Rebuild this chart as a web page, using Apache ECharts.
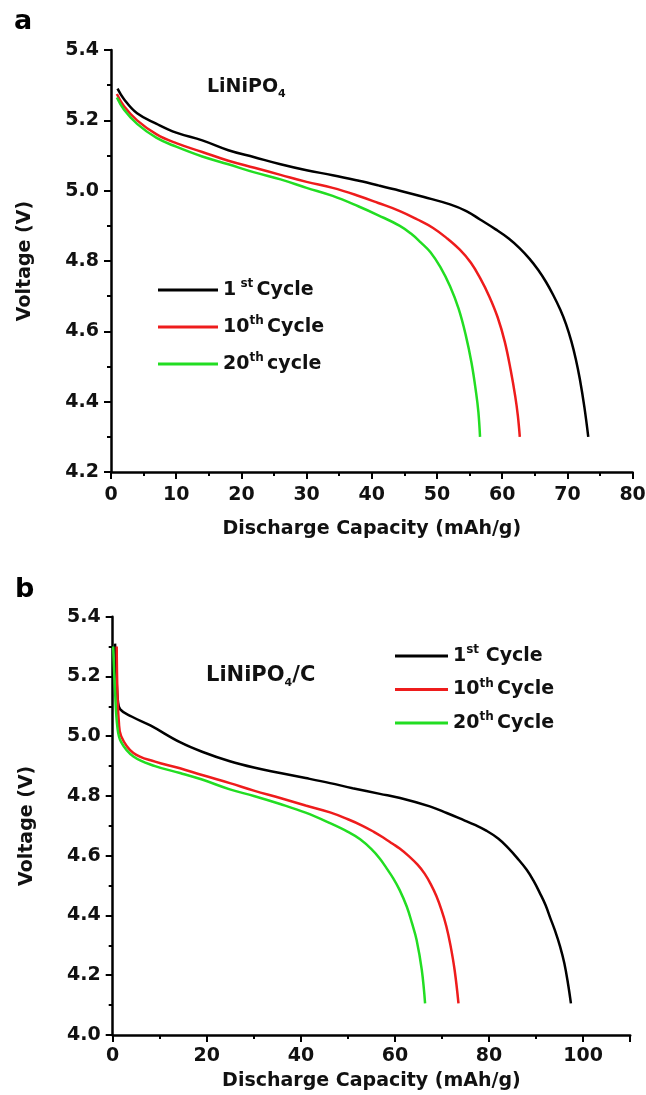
<!DOCTYPE html>
<html>
<head>
    <meta charset="utf-8">
    <script src="https://cdn.jsdelivr.net/npm/echarts@6/dist/echarts.min.js"></script>
    <style>
        html, body { margin: 0; padding: 0; background: #fff; }
        #main { width: 646px; height: 1095px; }
    </style>
</head>
<body>
    <div id="main"></div>
    <script>
        // capacity (mAh/g), voltage (V)
        // panel a: LiNiPO4
        var a1st = [[1,5.29],[2,5.26],[4,5.22],[7,5.19],[10,5.165],[14,5.143],[18,5.115],[22,5.095],[26,5.075],
            [30,5.058],[34,5.044],[38,5.028],[41,5.015],[44.3,5.0],[48,4.982],[52,4.961],[54.5,4.942],[56.6,4.918],
            [59,4.89],[61,4.864],[62.7,4.836],[64.2,4.806],[65.5,4.775],[66.7,4.741],[67.8,4.704],[68.9,4.662],
            [69.8,4.62],[70.6,4.572],[71.3,4.52],[71.9,4.465],[72.6,4.385],[73.2,4.3]];
        var a10th = [[0.9,5.275],[2,5.24],[4,5.2],[7,5.16],[10,5.135],[14,5.11],[18,5.085],[22,5.065],[26,5.045],
            [30,5.025],[34,5.008],[38,4.985],[41,4.965],[44.3,4.942],[47,4.918],[49.4,4.894],[51.5,4.865],
            [53.5,4.832],[55.2,4.795],[56.6,4.752],[58,4.7],[59.3,4.64],[60.4,4.57],[61.3,4.49],[62,4.415],
            [62.4,4.36],[62.7,4.3]];
        var a20th = [[0.9,5.265],[2,5.23],[4,5.19],[7,5.15],[10,5.125],[14,5.097],[18,5.075],[22,5.052],[26,5.032],
            [30,5.008],[34,4.985],[38,4.955],[41,4.93],[44.3,4.9],[46,4.878],[47.5,4.853],[49,4.825],[50.5,4.783],
            [52,4.728],[53.3,4.665],[54.4,4.59],[55.3,4.51],[56,4.425],[56.35,4.37],[56.6,4.3]];

        // panel b: LiNiPO4/C
        var b1st = [[0.5,5.31],[0.8,5.2],[1.1,5.12],[1.6,5.09],[4,5.066],[8,5.036],[14.3,4.98],[19,4.948],
            [24.9,4.916],[30,4.895],[35.6,4.877],[41,4.86],[46.2,4.843],[51,4.826],[56.8,4.807],[61.1,4.793],
            [67.4,4.765],[71,4.743],[74.5,4.72],[77,4.703],[79.5,4.683],[82,4.657],[84,4.627],[86,4.592],
            [88,4.553],[89.5,4.515],[90.8,4.475],[92,4.435],[93,4.392],[94,4.35],[95.1,4.296],[96,4.24],
            [96.8,4.17],[97.4,4.106]];
        var b10th = [[0.85,5.3],[1.0,5.15],[1.3,5.05],[1.8,5.0],[4.4,4.944],[9,4.915],[14.3,4.893],[19,4.87],
            [24.9,4.843],[30,4.818],[35.6,4.793],[41,4.768],[46.2,4.745],[50,4.722],[53,4.701],[55.5,4.68],
            [57.5,4.661],[59.5,4.64],[61,4.624],[63,4.598],[64.8,4.57],[66.3,4.54],[67.6,4.505],[68.8,4.465],
            [69.9,4.418],[70.9,4.365],[71.8,4.3],[72.7,4.215],[73.5,4.106]];
        var b20th = [[0.1,5.3],[0.5,5.15],[1,5.03],[1.8,4.98],[4.4,4.932],[9,4.9],[14.3,4.877],[19,4.855],
            [24.9,4.822],[30,4.8],[35.6,4.773],[41,4.744],[46.2,4.709],[50,4.68],[52.6,4.655],[55,4.622],
            [56.8,4.59],[58.3,4.556],[59.6,4.525],[61,4.485],[62.5,4.43],[63.6,4.375],[64.6,4.318],[65.7,4.218],
            [66.4,4.106]];

        // legend labels with superscripts
        var legendText = {
            'a 1st': '{t|1}{s| st} {t|Cycle}',
            'a 10th': '{t|10}{s|th} {t|Cycle}',
            'a 20th': '{t|20}{s|th} {t|cycle}',
            'b 1st': '{t|1}{s|st}  {t|Cycle}',
            'b 10th': '{t|10}{s|th} {t|Cycle}',
            'b 20th': '{t|20}{s|th} {t|Cycle}'
        };

        var FONT = '"DejaVu Sans", Arial, sans-serif';
        var BLACK = '#000000', RED = '#ee1c1c', GREEN = '#22dd22';

        var chart = echarts.init(document.getElementById('main'));

        function xAxisOpt(gridIndex, max, interval, labelMargin, nameGap) {
            return {
                type: 'value',
                gridIndex: gridIndex,
                min: 0,
                max: max,
                interval: interval,
                name: 'Discharge Capacity (mAh/g)',
                nameLocation: 'middle',
                nameGap: nameGap,
                nameTextStyle: {fontFamily: FONT, fontWeight: 'bold', fontSize: 19, color: '#111'},
                axisLine: {onZero: false, lineStyle: {color: '#000', width: 2.5}},
                axisTick: {length: 7, lineStyle: {color: '#000', width: 2}},
                minorTick: {show: true, splitNumber: 2, length: 4, lineStyle: {color: '#000', width: 2}},
                splitLine: {show: false},
                axisLabel: {
                    margin: labelMargin,
                    showMaxLabel: max % interval === 0,
                    fontFamily: FONT, fontWeight: 'bold', fontSize: 19, color: '#111'
                }
            };
        }

        function yAxisOpt(gridIndex, min) {
            return {
                type: 'value',
                gridIndex: gridIndex,
                min: min,
                max: 5.4,
                interval: 0.2,
                name: 'Voltage (V)',
                nameLocation: 'middle',
                nameGap: 76,
                nameTextStyle: {fontFamily: FONT, fontWeight: 'bold', fontSize: 19, color: '#111'},
                axisLine: {onZero: false, lineStyle: {color: '#000', width: 2.5}},
                axisTick: {length: 7, lineStyle: {color: '#000', width: 2}},
                minorTick: {show: true, splitNumber: 2, length: 4, lineStyle: {color: '#000', width: 2}},
                splitLine: {show: false},
                axisLabel: {
                    margin: 12,
                    formatter: function (v) { return v.toFixed(1); },
                    fontFamily: FONT, fontWeight: 'bold', fontSize: 19, color: '#111'
                }
            };
        }

        function lineSeries(name, data, color, idx) {
            return {
                name: name,
                type: 'line',
                xAxisIndex: idx,
                yAxisIndex: idx,
                data: data,
                showSymbol: false,
                smooth: 0.4,
                lineStyle: {color: color, width: 2.5},
                itemStyle: {color: color}
            };
        }

        var legendTextStyle = {
            rich: {
                t: {fontFamily: FONT, fontWeight: 'bold', fontSize: 19, lineHeight: 24, color: '#111'},
                s: {fontFamily: FONT, fontWeight: 'bold', fontSize: 12, lineHeight: 13, verticalAlign: 'top', color: '#111'}
            }
        };

        var option = {
            animation: false,
            backgroundColor: '#fff',
            grid: [
                {left: 111, top: 50, width: 521.6, height: 422, outerBoundsMode: 'none'},
                {left: 112.7, top: 616.7, width: 517.5, height: 418.3, outerBoundsMode: 'none'}
            ],
            xAxis: [xAxisOpt(0, 80, 10, 14, 48), xAxisOpt(1, 110, 20, 12, 37)],
            yAxis: [yAxisOpt(0, 4.2), yAxisOpt(1, 4.0)],
            legend: [
                {
                    data: ['a 1st', 'a 10th', 'a 20th'],
                    orient: 'vertical', left: 158, top: 278, padding: 0,
                    icon: 'rect', itemWidth: 60, itemHeight: 3, itemGap: 15.5,
                    selectedMode: false,
                    formatter: function (n) { return legendText[n]; },
                    textStyle: legendTextStyle
                },
                {
                    data: ['b 1st', 'b 10th', 'b 20th'],
                    orient: 'vertical', left: 395, top: 644, padding: 0,
                    icon: 'rect', itemWidth: 53, itemHeight: 3, itemGap: 12,
                    selectedMode: false,
                    formatter: function (n) { return legendText[n]; },
                    textStyle: legendTextStyle
                }
            ],
            graphic: [
                {type: 'text', left: 14, top: 8, style: {text: 'a', font: 'bold 27px ' + FONT, fill: '#000'}},
                {type: 'text', left: 15, top: 576, style: {text: 'b', font: 'bold 27px ' + FONT, fill: '#000'}},
                {
                    type: 'text', left: 207, top: 78,
                    style: {
                        text: '{m|LiNiPO}{d|4}',
                        rich: {
                            m: {font: 'bold 19px ' + FONT, fill: '#111', lineHeight: 24},
                            d: {font: 'bold 11px ' + FONT, fill: '#111', lineHeight: 12, verticalAlign: 'bottom'}
                        }
                    }
                },
                {
                    type: 'text', left: 206, top: 665,
                    style: {
                        text: '{m|LiNiPO}{d|4}{m|/C}',
                        rich: {
                            m: {font: 'bold 21px ' + FONT, fill: '#111', lineHeight: 26},
                            d: {font: 'bold 11px ' + FONT, fill: '#111', lineHeight: 12, verticalAlign: 'bottom'}
                        }
                    }
                }
            ],
            series: [
                lineSeries('a 1st', a1st, BLACK, 0),
                lineSeries('a 10th', a10th, RED, 0),
                lineSeries('a 20th', a20th, GREEN, 0),
                lineSeries('b 1st', b1st, BLACK, 1),
                lineSeries('b 10th', b10th, RED, 1),
                lineSeries('b 20th', b20th, GREEN, 1)
            ]
        };

        chart.setOption(option);
    </script>
</body>
</html>
